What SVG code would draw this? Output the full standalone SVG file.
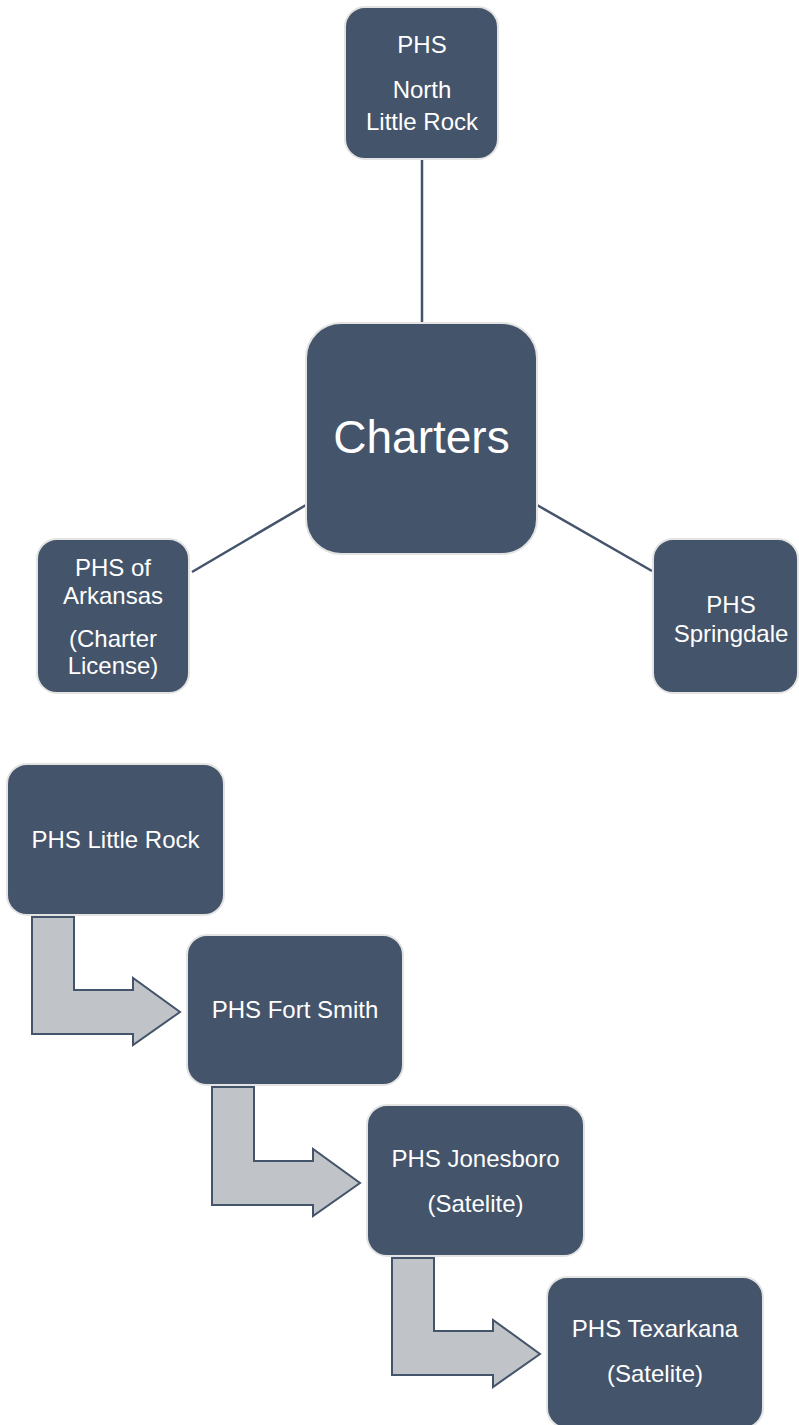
<svg xmlns="http://www.w3.org/2000/svg" width="799" height="1425" viewBox="0 0 799 1425">
<style>
.box{fill:#44546A;stroke:#E3E3E3;stroke-width:2}
.t{font-family:"Liberation Sans",Arial,sans-serif;font-size:24px;fill:#FFFFFF;text-anchor:middle}
.big{font-size:46px}
.link{stroke:#44546A;stroke-width:2.5;fill:none}
.arrow{fill:#C0C4C9;stroke:#44546A;stroke-width:2;stroke-linejoin:miter}
</style>
<rect width="799" height="1425" fill="#FFFFFF"/>
<g id="connectors">
<line class="link" x1="422" y1="159" x2="422" y2="323"/>
<line class="link" x1="306" y1="505" x2="192" y2="572"/>
<line class="link" x1="537" y1="505" x2="652" y2="571"/>
<path class="arrow" d="M32,917 L74,917 L74,990 L133,990 L133,978 L180,1012 L133,1045 L133,1034 L32,1034 Z"/>
<path class="arrow" d="M212,1087 L254,1087 L254,1161 L313,1161 L313,1149 L360,1183 L313,1216 L313,1205 L212,1205 Z"/>
<path class="arrow" d="M392,1258 L434,1258 L434,1331 L493,1331 L493,1320 L540,1354 L493,1387 L493,1375 L392,1375 Z"/>
</g>
<g id="node-north-little-rock">
<rect class="box" x="345" y="7" width="153" height="152" rx="20"/>
<text class="t" x="422" y="53">PHS</text>
<text class="t" x="422" y="98">North</text>
<text class="t" x="422" y="130">Little Rock</text>
</g>
<g id="node-charters">
<rect class="box" x="306" y="323" width="231" height="231" rx="35"/>
<text class="t big" x="421.5" y="453">Charters</text>
</g>
<g id="node-arkansas">
<rect class="box" x="37" y="539" width="152" height="154" rx="20"/>
<text class="t" x="113" y="576">PHS of</text>
<text class="t" x="113" y="604">Arkansas</text>
<text class="t" x="113" y="647">(Charter</text>
<text class="t" x="113" y="674">License)</text>
</g>
<g id="node-springdale">
<rect class="box" x="653" y="539" width="145" height="154" rx="20"/>
<text class="t" x="731" y="613">PHS</text>
<text class="t" x="731" y="642">Springdale</text>
</g>
<g id="node-little-rock">
<rect class="box" x="7" y="764" width="217" height="151" rx="20"/>
<text class="t" x="115.5" y="848">PHS Little Rock</text>
</g>
<g id="node-fort-smith">
<rect class="box" x="187" y="935" width="216" height="150" rx="20"/>
<text class="t" x="295" y="1018">PHS Fort Smith</text>
</g>
<g id="node-jonesboro">
<rect class="box" x="367" y="1105" width="217" height="151" rx="20"/>
<text class="t" x="475.5" y="1167">PHS Jonesboro</text>
<text class="t" x="475.5" y="1212">(Satelite)</text>
</g>
<g id="node-texarkana">
<rect class="box" x="547" y="1277" width="216" height="151" rx="20"/>
<text class="t" x="655" y="1337">PHS Texarkana</text>
<text class="t" x="655" y="1382">(Satelite)</text>
</g>
</svg>
